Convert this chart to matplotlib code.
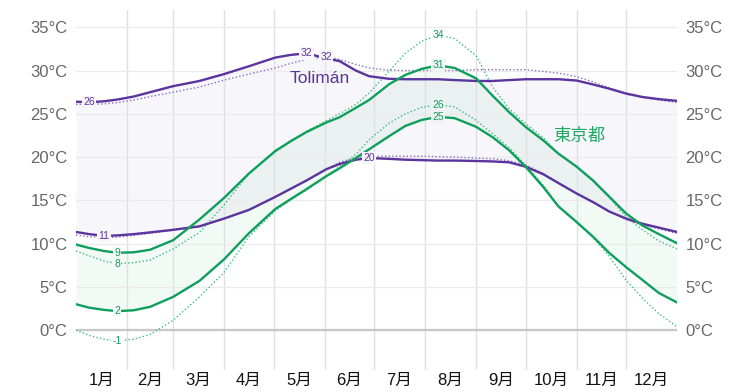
import matplotlib
matplotlib.use("Agg")
import matplotlib.pyplot as plt
import numpy as np

plt.rcParams["font.family"] = ["Liberation Sans", "Noto Sans CJK JP"]

# day of year for each reading
days = [0, 8, 17, 25, 35, 45, 59, 75, 90, 105, 121, 130, 140, 152, 160, 170, 178,
        190, 200, 210, 220, 230, 243, 253, 263, 273, 284, 293, 304, 314, 324, 334,
        344, 354, 365]

# Tolimán
toliman_high = [26.4, 26.35, 26.45, 26.65, 27.0, 27.5, 28.2, 28.8, 29.6, 30.5, 31.5,
                31.8, 32.0, 31.4, 31.1, 30.0, 29.35, 29.05, 29.0, 29.0, 29.0, 28.9,
                28.8, 28.8, 28.9, 29.0, 29.0, 29.0, 28.85, 28.4, 27.9, 27.35, 26.95,
                26.7, 26.5]
toliman_high_dot = [26.1, 26.1, 26.15, 26.3, 26.6, 27.0, 27.5, 28.1, 28.9, 29.6, 30.3,
                    30.8, 31.3, 31.6, 31.3, 30.7, 30.3, 30.05, 30.0, 30.0, 30.0, 30.0,
                    30.1, 30.1, 30.1, 30.1, 29.9, 29.7, 29.3, 28.7, 28.0, 27.3, 26.9,
                    26.6, 26.3]
toliman_low = [11.35, 11.1, 10.9, 10.95, 11.1, 11.3, 11.6, 12.0, 12.9, 13.9, 15.4,
               16.3, 17.3, 18.6, 19.2, 19.7, 19.9, 19.8, 19.7, 19.65, 19.6, 19.6,
               19.55, 19.5, 19.4, 18.9, 18.0, 17.0, 15.8, 14.8, 13.7, 12.9, 12.3,
               11.85, 11.35]
toliman_low_dot = [11.0, 10.8, 10.7, 10.75, 10.95, 11.2, 11.55, 12.0, 12.9, 13.9, 15.4,
                   16.3, 17.3, 18.6, 19.4, 19.95, 20.1, 20.1, 20.1, 20.1, 20.05, 20.0,
                   19.9, 19.8, 19.6, 19.1, 18.1, 17.0, 15.8, 14.8, 13.7, 12.8, 12.2,
                   11.7, 11.2]

# 東京都
tokyo_high = [9.9, 9.5, 9.15, 8.95, 9.0, 9.3, 10.4, 12.8, 15.3, 18.1, 20.7, 21.8, 22.9,
              24.0, 24.6, 25.7, 26.6, 28.4, 29.5, 30.2, 30.6, 30.3, 29.1, 27.1, 25.2,
              23.5, 21.9, 20.4, 18.9, 17.3, 15.4, 13.5, 12.1, 11.1, 10.05]
tokyo_high_dot = [9.15, 8.6, 8.0, 7.7, 7.8, 8.1, 9.4, 11.3, 14.5, 18.1, 20.6, 21.7,
                  23.0, 24.2, 25.0, 26.1, 27.4, 29.9, 32.0, 33.4, 34.1, 33.7, 31.7,
                  28.1, 25.6, 23.9, 22.2, 20.4, 18.9, 17.2, 15.3, 13.1, 11.6, 10.3, 9.4]
tokyo_low = [3.0, 2.6, 2.35, 2.2, 2.3, 2.7, 3.85, 5.7, 8.2, 11.2, 14.0, 15.1, 16.3,
             17.8, 18.7, 19.9, 20.9, 22.4, 23.6, 24.3, 24.65, 24.5, 23.5, 22.3, 20.8,
             18.9, 16.5, 14.3, 12.5, 10.8, 8.9, 7.3, 5.8, 4.3, 3.2]
tokyo_low_dot = [0.0, -0.6, -1.05, -1.2, -1.05, -0.5, 1.15, 3.85, 6.7, 10.8, 13.8,
                 15.0, 16.2, 17.8, 18.9, 20.3, 22.0, 23.9, 25.0, 25.75, 26.05, 25.8,
                 24.25, 22.7, 21.1, 19.1, 16.7, 14.3, 12.6, 10.7, 8.5, 5.8, 3.7, 1.9,
                 0.4]

months = ["1月", "2月", "3月", "4月", "5月", "6月", "7月", "8月", "9月", "10月", "11月", "12月"]
month_len = [31, 28, 31, 30, 31, 30, 31, 31, 30, 31, 30, 31]
y_ticks = [0, 5, 10, 15, 20, 25, 30, 35]

purple = "#5b349e"
green = "#0f9f5c"
purple_dot = "#8a6cc0"
green_dot = "#3dbb82"

fig = plt.figure(figsize=(7.53, 3.92), dpi=100)
ax = fig.add_axes([76 / 753, 22 / 392, 601 / 753, 360 / 392])

d = np.array(days, dtype=float)

ax.fill_between(d, toliman_low, toliman_high, color=purple, alpha=0.045, lw=0, zorder=1)
ax.fill_between(d, tokyo_low, tokyo_high, color=green, alpha=0.05, lw=0, zorder=1)

for ys, c in [(toliman_high_dot, purple_dot), (toliman_low_dot, purple_dot),
              (tokyo_high_dot, green_dot), (tokyo_low_dot, green_dot)]:
    ax.plot(d, ys, color=c, lw=1.0, ls=(0, (1, 1.6)), zorder=3)
for ys, c in [(toliman_high, purple), (toliman_low, purple),
              (tokyo_high, green), (tokyo_low, green)]:
    ax.plot(d, ys, color=c, lw=1.7, zorder=4, solid_joinstyle="round",
            solid_capstyle="round")

# extreme value labels
def mark(ys, kind, color, bg):
    ys = np.array(ys)
    i = int(np.argmax(ys)) if kind == "max" else int(np.argmin(ys))
    ax.text(d[i], ys[i], f"{int(np.round(ys[i]))}", color=color, fontsize=7.5,
            ha="center", va="center", zorder=6,
            bbox=dict(boxstyle="square,pad=0.12", fc=bg, ec="none"))

bg_p = "#f7f5fa"
bg_g = "#f3f9f6"
bg_w = "#ffffff"
mark(toliman_high, "min", purple, bg_p)
mark(toliman_high, "max", purple, bg_p)
mark(toliman_high_dot, "max", purple, bg_p)
mark(toliman_low, "min", purple, bg_p)
mark(toliman_low, "max", purple, bg_p)
mark(tokyo_high, "min", green, bg_g)
mark(tokyo_high_dot, "min", green, bg_g)
mark(tokyo_low, "min", green, bg_g)
mark(tokyo_low_dot, "min", green, bg_w)
mark(tokyo_high, "max", green, "#eff3f3")
mark(tokyo_high_dot, "max", green, bg_w)
mark(tokyo_low, "max", green, "#eff3f3")
mark(tokyo_low_dot, "max", green, "#eff3f3")

ax.text(148, 29.1, "Tolimán", color=purple, fontsize=12.5, ha="center", va="center", zorder=6)
ax.text(305.5, 22.4, "東京都", color="#22a867", fontsize=12.5, ha="center", va="center", zorder=6)

# axes styling
bounds = np.cumsum(month_len)
mids = bounds - np.array(month_len) / 2.0
ax.set_xlim(0, 365)
ax.set_ylim(-4.6, 37)
ax.set_xticks(mids)
ax.set_xticklabels(months)
ax.set_xticks(bounds[:-1], minor=True)
ax.set_yticks(y_ticks)
ax.set_yticklabels([f"{v}°C" for v in y_ticks])
ax.tick_params(axis="x", which="both", length=0, pad=2, labelsize=12, labelcolor="#111111")
ax.tick_params(axis="y", length=0, pad=6, labelsize=12, labelcolor="#666666",
               labelleft=True, labelright=True)
ax.grid(axis="x", which="minor", color="#e0e0e4", lw=1, zorder=0)
ax.grid(axis="y", which="major", color="#ebebeb", lw=1, zorder=0)
ax.axhline(0, color="#c8c8c8", lw=1.6, zorder=2)
for s in ax.spines.values():
    s.set_visible(False)

fig.savefig("out.png", dpi=100)
